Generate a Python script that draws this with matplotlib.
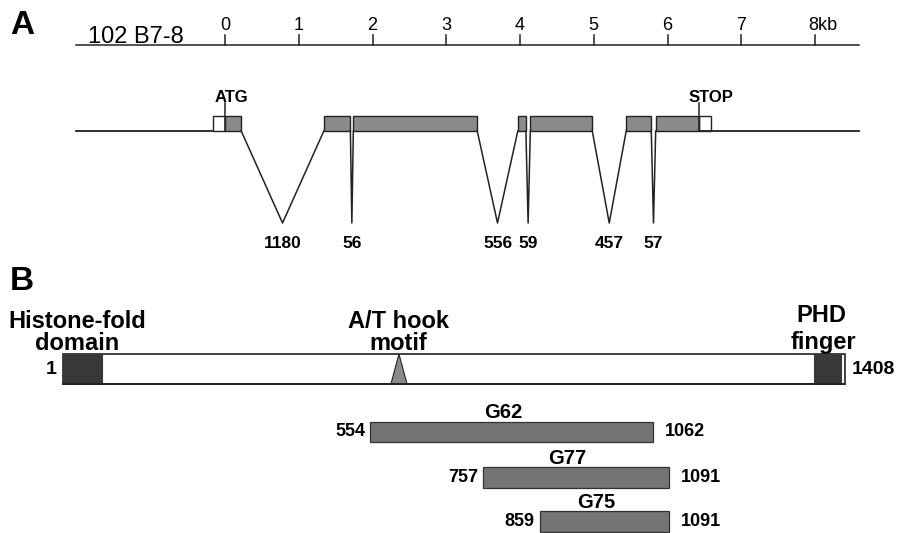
#!/usr/bin/env python3
import matplotlib
matplotlib.use("Agg")
import matplotlib.pyplot as plt
from matplotlib.patches import Rectangle, Polygon

plt.rcParams['font.family'] = ['Liberation Sans', 'DejaVu Sans']

# panel A: genomic map of 102 B7-8 (kb)
clone_name = "102 B7-8"
scale_ticks = [0, 1, 2, 3, 4, 5, 6, 7, 8]
scale_labels = ["0", "1", "2", "3", "4", "5", "6", "7", "8kb"]
exons = [(0.00, 0.22), (1.34, 1.70), (1.74, 3.42), (3.97, 4.08),
         (4.14, 4.98), (5.44, 5.78), (5.84, 6.43)]
utr5 = (-0.16, 0.00)
utr3 = (6.43, 6.59)
intron_sizes = [1180, 56, 556, 59, 457, 57]
atg_pos = 0.0
stop_pos = 6.43
map_extent = (-2.02, 8.60)

# panel B: protein (aa)
protein_len = 1408
histone_fold = (1, 72)
phd_finger = (1353, 1400)
at_hook = (591, 620)
clone_names = ["G62", "G77", "G75"]
clone_start = [554, 757, 859]
clone_end = [1062, 1091, 1091]

EXON_GRAY = "#8a8a8a"
DARK = "#383838"
CLONE_GRAY = "#747474"
LINE = "#222222"

fig = plt.figure(figsize=(8.99, 5.33), dpi=100)

# ---- panel A ----
px_per_kb = 73.75
ax_a = fig.add_axes([0, 1 - 260 / 533, 1, 260 / 533])
ax_a.set_xlim(-225 / px_per_kb, (899 - 225) / px_per_kb)
ax_a.set_ylim(260, 0)
ax_a.axis("off")

ax_a.text(-2.75, 26, "A", fontsize=24, fontweight="bold", ha="center", va="center")
ax_a.text(-1.86, 43, clone_name, fontsize=17, ha="left", va="baseline")

# scale bar
ax_a.plot(map_extent, [45, 45], color=LINE, lw=1.1)
for t, lab in zip(scale_ticks, scale_labels):
    ax_a.plot([t, t], [35, 45], color=LINE, lw=1.1)
    if lab.endswith("kb"):
        ax_a.text(t - 0.09, 25, lab, fontsize=13, ha="left", va="center")
    else:
        ax_a.text(t, 25, lab, fontsize=13, ha="center", va="center")

# flanking sequence
base_y, top_y, low_y = 131, 116, 223
ax_a.plot([map_extent[0], utr5[0]], [base_y, base_y], color=LINE, lw=1.3)
ax_a.plot([utr3[0], map_extent[1]], [base_y, base_y], color=LINE, lw=1.3)

for s, e in [utr5, utr3]:
    ax_a.add_patch(Rectangle((s, top_y), e - s, base_y - top_y, fc="white",
                             ec=LINE, lw=1.0))
for s, e in exons:
    ax_a.add_patch(Rectangle((s, top_y), e - s, base_y - top_y, fc=EXON_GRAY,
                             ec=LINE, lw=1.0))

# introns as V shapes
for (s0, e0), (s1, e1), size in zip(exons[:-1], exons[1:], intron_sizes):
    mid = (e0 + s1) / 2
    ax_a.plot([e0, mid, s1], [base_y, low_y, base_y], color=LINE, lw=1.1)
    ax_a.text(mid, 243, str(size), fontsize=12.5, fontweight="bold",
              ha="center", va="center")

# start / stop markers
for pos, lab, dx in [(atg_pos, "ATG", 0.09), (stop_pos, "STOP", 0.16)]:
    ax_a.plot([pos, pos], [103, base_y], color=LINE, lw=1.1)
    ax_a.text(pos + dx, 98, lab, fontsize=12, fontweight="bold",
              ha="center", va="center")

# ---- panel B ----
px0, px1 = 63, 845
px_per_aa = (px1 - px0) / (protein_len - 1)
ax_b = fig.add_axes([0, 0, 1, 273 / 533])
ax_b.set_xlim(1 - px0 / px_per_aa, 1 + (899 - px0) / px_per_aa)
ax_b.set_ylim(533, 260)
ax_b.axis("off")

ax_b.text(1 - 41 / px_per_aa, 281, "B", fontsize=24, fontweight="bold",
          ha="center", va="center")

bar_top, bar_bot = 354, 384
ax_b.add_patch(Rectangle((1, bar_top), protein_len - 1, bar_bot - bar_top,
                         fc="white", ec=LINE, lw=1.2))
for s, e in [histone_fold, phd_finger]:
    ax_b.add_patch(Rectangle((s, bar_top), e - s, bar_bot - bar_top,
                             fc=DARK, ec=DARK, lw=0.8))
ax_b.add_patch(Polygon([(at_hook[0], bar_bot), ((at_hook[0] + at_hook[1]) / 2, bar_top),
                        (at_hook[1], bar_bot)], closed=True, fc=EXON_GRAY,
                       ec=LINE, lw=0.8))
ax_b.plot([1, protein_len], [bar_bot, bar_bot], color=LINE, lw=1.4)

ax_b.text(1 - 6 / px_per_aa, 369, "1", fontsize=14, fontweight="bold",
          ha="right", va="center")
ax_b.text(protein_len + 7 / px_per_aa, 369, str(protein_len), fontsize=14,
          fontweight="bold", ha="left", va="center")

ax_b.text(26, 321, "Histone-fold", fontsize=17, fontweight="bold",
          ha="center", va="center")
ax_b.text(26, 343, "domain", fontsize=17, fontweight="bold",
          ha="center", va="center")
ax_b.text(605, 321, "A/T hook", fontsize=17, fontweight="bold",
          ha="center", va="center")
ax_b.text(605, 343, "motif", fontsize=17, fontweight="bold",
          ha="center", va="center")
ax_b.text(1366, 315, "PHD", fontsize=17, fontweight="bold",
          ha="center", va="center")
ax_b.text(1370, 342, "finger", fontsize=17, fontweight="bold",
          ha="center", va="center")

clone_rows = [(422, 442, 412), (467, 488, 459), (511, 532, 502)]
for name, s, e, (t, b, ly) in zip(clone_names, clone_start, clone_end, clone_rows):
    ax_b.add_patch(Rectangle((s, t), e - s, b - t, fc=CLONE_GRAY, ec="#333333", lw=0.9))
    ax_b.text((s + e) / 2 - 15, ly, name, fontsize=14.5, fontweight="bold",
              ha="center", va="center")
    ax_b.text(s - 5 / px_per_aa, (t + b) / 2, str(s), fontsize=13, fontweight="bold",
              ha="right", va="center")
    ax_b.text(e + 12 / px_per_aa, (t + b) / 2, str(e), fontsize=13, fontweight="bold",
              ha="left", va="center")

fig.savefig("out.png", dpi=100)
